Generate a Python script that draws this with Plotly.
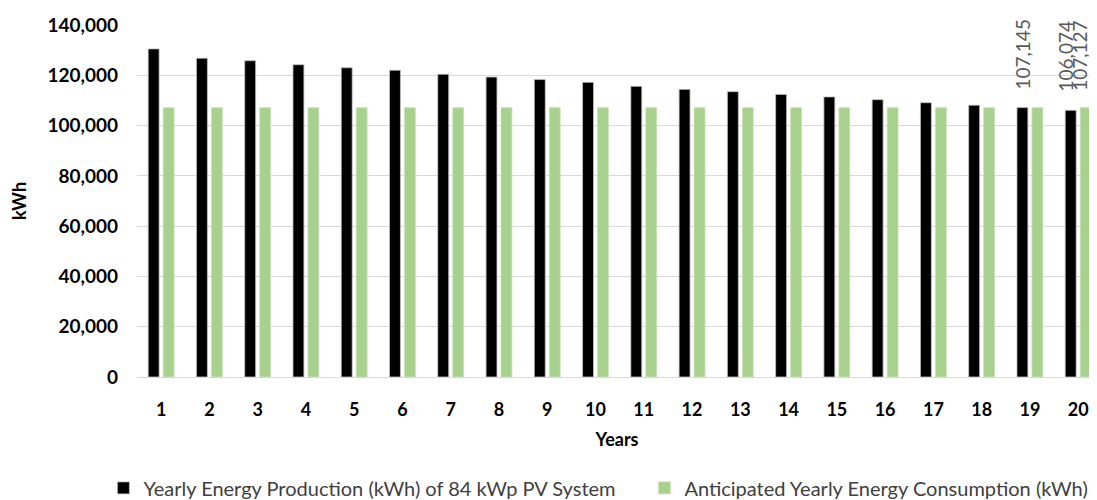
import plotly.graph_objects as go

years = list(range(1, 21))
production = [130500, 126800, 125800, 124200, 123000, 122000, 120400, 119300, 118300, 117200,
              115600, 114400, 113500, 112400, 111400, 110300, 109100, 108100, 107145, 106074]
consumption = [107127] * 20
# data labels shown in the chart: (year, series, value)
labels = [(19, "prod", 107145), (20, "prod", 106074), (20, "cons", 107127)]
y_ticks = [0, 20000, 40000, 60000, 80000, 100000, 120000, 140000]

FONT = "Lato, 'Open Sans', sans-serif"

fig = go.Figure()
fig.add_trace(go.Bar(
    x=years, y=production, name="Yearly Energy Production (kWh) of 84 kWp PV System",
    marker=dict(color="#000000", line=dict(color="#bfbfbf", width=0.8)),
))
fig.add_trace(go.Bar(
    x=years, y=consumption, name="Anticipated Yearly Energy Consumption (kWh)",
    marker=dict(color="#a9d18e", line=dict(color="#c9e3b6", width=0.8)),
))

label_offsets = {(19, "prod"): (-7, 17), (20, "prod"): (-13, 18), (20, "cons"): (1, 16)}
for yr, series, val in labels:
    dx, dy = label_offsets[(yr, series)]
    fig.add_annotation(
        x=yr, y=val, xref="x", yref="y", text=f"{val:,}", showarrow=False,
        textangle=-90, yanchor="bottom", xanchor="center",
        xshift=dx, yshift=dy, borderpad=0,
        font=dict(family=FONT, size=19, color="#595959"),
    )

fig.update_layout(
    width=1089, height=492,
    margin=dict(l=129, r=0, t=17, b=123, autoexpand=False),
    paper_bgcolor="white", plot_bgcolor="white",
    barmode="group", bargap=0.38, bargroupgap=0.27,
    font=dict(family=FONT, color="#000000"),
    showlegend=True,
    legend=dict(orientation="h", x=-0.035, xanchor="left", xref="paper",
                y=-0.315, yanchor="middle",
                font=dict(family=FONT, size=20, color="#404040"),
                itemwidth=30, entrywidth=496, entrywidthmode="pixels"),
)
fig.update_xaxes(
    range=[0.5, 20.39], tickmode="array", tickvals=years, ticktext=[str(y) for y in years],
    tickfont=dict(family=FONT, size=18, color="#000000", weight="bold"),
    showgrid=False, showline=True, linecolor="#d9d9d9", linewidth=1,
    ticks="", ticklabelstandoff=16, automargin=False,
    title=dict(text="<b>Years</b>", font=dict(family=FONT, size=18, color="#000000"), standoff=14),
)
fig.update_yaxes(
    range=[0, 140000], tickmode="array", tickvals=y_ticks,
    ticktext=[f"{v:,}" for v in y_ticks],
    tickfont=dict(family=FONT, size=19, color="#000000", weight="bold"),
    showgrid=True, gridcolor="#d9d9d9", gridwidth=1, zeroline=False,
    ticks="", ticklabelstandoff=18, automargin=False,
    title=dict(text="<b>kWh</b>", font=dict(family=FONT, size=18, color="#000000"), standoff=17),
)

fig.write_html("out.html")
